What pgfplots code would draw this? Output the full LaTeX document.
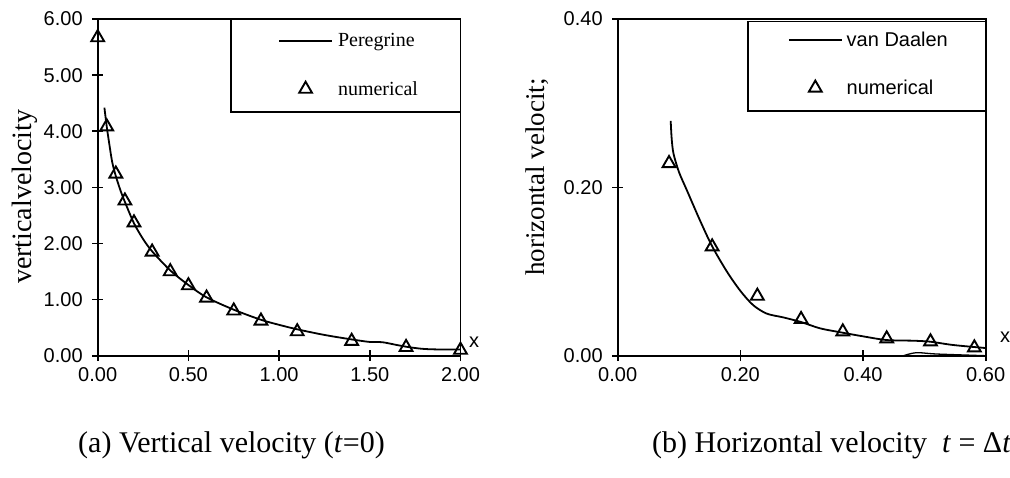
\documentclass[border=0pt]{standalone}
\usepackage{fontspec}
\setmainfont{Liberation Serif}
\newfontfamily\arial{Liberation Sans}
\usepackage{pgfplots}
\pgfplotsset{compat=1.18}

\pgfplotsset{
  myaxis/.style={
    scale only axis,
    axis line style={line width=1.7pt},
    every tick/.style={black, line width=1.7pt},
    tick align=center,
    major tick length=11pt,
    xtick pos=bottom, ytick pos=left,
    tick label style={font=\arial\fontsize{20}{24}\selectfont},
    /pgf/number format/assume math mode=true,
    /pgf/number format/.cd, fixed, fixed zerofill, precision=2, /pgfplots/.cd,
    yticklabel style={xshift=-6pt},
    xticklabel style={yshift=-3pt},
    legend cell align=left,
    legend image code/.code={\draw[mark repeat=2,mark phase=2,#1] plot coordinates {(0pt,0pt) (26.5pt,0pt) (53pt,0pt)};},
    clip=false,
  },
  curve/.style={black, line width=1.8pt, no marks, smooth, tension=0.5},
  tri/.style={black, only marks, mark=triangle, mark size=7.4pt, line width=1.9pt, mark options={solid, fill=white}},
}

\begin{document}
\begin{tikzpicture}
\useasboundingbox (0pt,0pt) rectangle (1010pt,477pt);
\clip (0pt,0pt) rectangle (1010pt,477pt);

% ---------- (a) ----------
\begin{axis}[myaxis,
  at={(97.7pt,121.3pt)}, anchor=south west,
  width=362.8pt, height=336.7pt,
  xmin=0, xmax=2, ymin=0, ymax=6,
  xtick={0,0.5,1,1.5,2}, ytick={0,1,2,3,4,5,6},
  ylabel={verticalvelocity},
  ylabel style={at={(rel axis cs:-0.200,0.472)}, anchor=center, font=\fontsize{28}{32}\selectfont},
  xlabel={x},
  xlabel style={at={(rel axis cs:1,0)}, anchor=south west, xshift=5pt, yshift=5pt, font=\arial\fontsize{20}{24}\selectfont},
  legend style={draw=none, fill=none, at={(rel axis cs:0.497,0.960)}, anchor=north west,
    inner sep=0pt, row sep=31pt, font=\fontsize{20}{24}\selectfont,
    nodes={inner sep=1pt}, column sep=4pt},
]
\draw[line width=1.7pt] (rel axis cs:0.3674,0.7238) rectangle (rel axis cs:1,1);
\addplot[curve] coordinates {
(0.037,4.42) (0.05,4.08) (0.065,3.75) (0.08,3.45) (0.1,3.20) (0.125,2.95)
(0.15,2.74) (0.2,2.36) (0.25,2.08) (0.3,1.86) (0.4,1.52) (0.5,1.26)
(0.6,1.04) (0.75,0.82) (0.9,0.64) (1.0,0.55) (1.1,0.47) (1.25,0.37)
(1.4,0.29) (1.5,0.245) (1.57,0.24) (1.65,0.19) (1.72,0.15) (1.8,0.12)
(1.9,0.11) (2.0,0.11)};
\addlegendentry{Peregrine}
\addplot[tri] coordinates {
(0,5.67) (0.05,4.08) (0.1,3.24) (0.15,2.76) (0.2,2.37) (0.3,1.85)
(0.4,1.50) (0.5,1.25) (0.6,1.03) (0.75,0.80) (0.9,0.62) (1.1,0.43)
(1.4,0.26) (1.7,0.15) (2.0,0.10)};
\addlegendentry{numerical}
\end{axis}

% ---------- (b) ----------
\begin{axis}[myaxis,
  at={(617.7pt,121.3pt)}, anchor=south west,
  width=368pt, height=336.7pt,
  xmin=0, xmax=0.6, ymin=0, ymax=0.4,
  xtick={0,0.2,0.4,0.6}, ytick={0,0.2,0.4},
  ylabel={horizontal velocit;},
  ylabel style={at={(rel axis cs:-0.219,0.531)}, anchor=center, font=\fontsize{27}{32}\selectfont},
  xlabel={x},
  xlabel style={at={(rel axis cs:1,0)}, anchor=south west, xshift=11pt, yshift=10pt, font=\arial\fontsize{20}{24}\selectfont},
  legend style={draw=none, fill=none, at={(rel axis cs:0.462,0.965)}, anchor=north west,
    inner sep=0pt, row sep=30pt, font=\arial\fontsize{20}{24}\selectfont,
    nodes={inner sep=1pt}, column sep=3pt},
]
\draw[line width=1.7pt] (rel axis cs:0.3541,0.7268) rectangle (rel axis cs:1,0.993);
\addplot[curve] coordinates {
(0.0864,0.279) (0.088,0.258) (0.091,0.240) (0.1,0.218) (0.1125,0.197)
(0.134,0.161) (0.154,0.130) (0.178,0.100) (0.2,0.077) (0.221,0.060)
(0.243,0.050) (0.27,0.0455) (0.299,0.040) (0.33,0.0325) (0.367,0.0273)
(0.40,0.023) (0.4386,0.0186) (0.482,0.0178) (0.51,0.0166) (0.547,0.0127)
(0.6,0.0091)};
\addlegendentry{van Daalen}
\addplot[tri] coordinates {
(0.0837,0.2285) (0.154,0.1295) (0.2277,0.0709) (0.299,0.0432)
(0.367,0.0285) (0.4386,0.0202) (0.51,0.0166) (0.5815,0.0095)};
\addlegendentry{numerical}
\addplot[black, line width=1.3pt, no marks, smooth, forget plot] coordinates {
(0.466,0) (0.487,0.0036) (0.52,0.002) (0.6,0)};
\end{axis}

% captions
\node[anchor=base west, inner sep=0pt, font=\fontsize{30}{36}\selectfont] at (78pt,24pt) {(a) Vertical velocity (\textit{t}=0)};
\node[anchor=base west, inner sep=0pt, font=\fontsize{30}{36}\selectfont] at (652pt,24pt) {(b) Horizontal velocity\ \ \textit{t} = Δ\textit{t}};
\end{tikzpicture}
\end{document}
